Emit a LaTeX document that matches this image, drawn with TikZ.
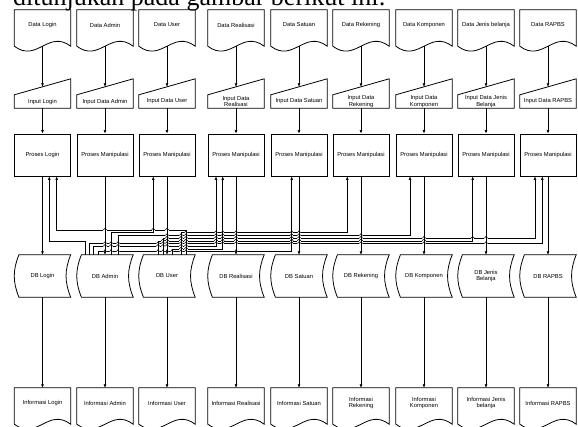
\documentclass[tikz,border=0pt]{standalone}
\usepackage{fontspec}
\setmainfont{Liberation Serif}
\newfontfamily\labfont{Liberation Sans}
\usetikzlibrary{calc,arrows.meta}
\newcommand\docoutline[1]{%
  \draw[outl] let \p1=(#1.north west), \p2=(#1.south east), \n1={\x2-\x1} in
    (\p1) -- (\x2,\y1) -- (\x2,\y2-6pt)
    .. controls (\x2-0.4*\n1,\y2+11pt) and (\x2-0.6*\n1,\y2-23pt) .. (\x1,\y2-6pt) -- cycle;}
\newcommand\inoutline[1]{%
  \draw[outl] let \p1=(#1.north west), \p2=(#1.south east) in
    (\x1,\y2) -- (\p1) -- (\x2,\y1+16pt) -- (\p2) -- cycle;}
\newcommand\dboutline[1]{%
  \draw[outl] let \p1=(#1.north west), \p2=(#1.south east) in
    (\x1+4.6pt,\y1) -- (\x2,\y1) to[bend right=22] (\x2,\y2) -- (\x1+4.6pt,\y2)
    to[bend left=22] (\x1+4.6pt,\y1) -- cycle;}
\newcommand\hopcheck[3]{%
  \pgfmathtruncatemacro\hopflag{((#1)>(\a+0.5))*((#1)<(\b-0.5))*(\L>(#2+0.5))*(\L<(#3-0.5))}%
  \ifnum\hopflag=1
    \fill[white] (#1-1.7,\L-0.8) rectangle (#1+1.7,\L+0.8);
    \draw[bus] (#1-1.7,\L) .. controls (#1-1.7,\L-2.3) and (#1+1.7,\L-2.3) .. (#1+1.7,\L);
  \fi}
\def\routelist{85/240.8/49.3/s2/p1, 186/230/56.7/s3/p1, 111/232.7/153.3/s2/p3,
  93/246.2/216/s2/p4, 172/248.9/222.7/s3/p4, 98/251.6/291.7/s2/p5,
  181/232.7/347.3/s3/p6, 118/235.4/410/s2/p7, 158/240.8/472.7/s3/p8,
  163/238.1/535/s3/p9, 89/243.5/542.3/s2/p9}
\def\hlist{240.8/49.3/85, 230/56.7/186, 232.7/111/153.3, 246.2/93/216,
  248.9/172/222.7, 251.6/98/291.7, 232.7/181/347.3, 235.4/118/410,
  240.8/158/472.7, 238.1/163/535, 243.5/89/542.3}
\begin{document}
\begin{tikzpicture}[x=1pt,y=-1pt,
  lbl/.style={draw=none,minimum width=56pt,inner sep=0pt,align=center,
     font=\labfont\fontsize{5.8}{6.8}\selectfont},
  docn/.style={lbl,minimum height=30pt},
  inpn/.style={lbl,minimum height=13pt},
  procn/.style={lbl,draw,line width=0.8pt,minimum height=42pt},
  dbn/.style={lbl,minimum height=42pt},
  outl/.style={draw,line width=0.8pt},
  myarrow/.style={-{Latex[length=3.4pt,width=2.8pt]}},
  arr/.style={line width=0.6pt,myarrow},
  bus/.style={line width=0.55pt},
  busarr/.style={bus,myarrow},
]
\useasboundingbox (0,0) rectangle (578,426);
\clip (0,0) rectangle (578,426);
\node[anchor=base west,inner sep=0pt,font=\fontsize{26}{30}\selectfont] (title) at (13,5.5) {ditunjukan pada gambar berikut ini:};

\foreach \i/\cx/\dtx/\itx/\ptx/\stx/\otx in {
 1/42.5/{Data Login}/{Input Login}/{Proses Login}/{DB Login}/{Informasi Login},
 2/105/{Data Admin}/{Input Data Admin}/{Proses Manipulasi}/{DB Admin}/{Informasi Admin},
 3/167/{Data User}/{Input Data User}/{Proses Manipulasi}/{DB User}/{Informasi User},
 4/236/{Data Realisasi}/{Input Data\\Realisasi}/{Proses Manipulasi}/{DB Realisasi}/{Informasi Realisasi},
 5/299/{Data Satuan}/{Input Data Satuan}/{Proses Manipulasi}/{DB Satuan}/{Informasi Satuan},
 6/361/{Data Rekening}/{Input Data\\Rekening}/{Proses Manipulasi}/{DB Rekening}/{Informasi\\Rekening},
 7/424/{Data Komponen}/{Input Data\\Komponen}/{Proses Manipulasi}/{DB Komponen}/{Informasi\\Komponen},
 8/486/{Data Jenis belanja}/{Input Data Jenis\\Belanja}/{Proses Manipulasi}/{DB Jenis\\Belanja}/{Informasi Jenis\\belanja},
 9/548/{Data RAPBS}/{Input Data RAPBS}/{Proses Manipulasi}/{DB RAPBS}/{Informasi RAPBS}}{
  \node[docn] (d\i) at (\cx,25) {\dtx};
  \node[inpn] (m\i) at (\cx,101.5) {\itx};
  \node[procn] (p\i) at (\cx,155) {\ptx};
  \node[dbn] (s\i) at (\cx,276) {\stx};
  \node[docn] (o\i) at (\cx,403) {\otx};
  \docoutline{d\i}
  \inoutline{m\i}
  \dboutline{s\i}
  \docoutline{o\i}
  \draw[arr] ([yshift=-6pt]d\i.south) -- ([yshift=8pt]m\i.north);
  \draw[arr] (m\i.south) -- (p\i.north);
  \draw[arr] (s\i.south) -- (o\i.north);
}

% data read connectors (DB -> process)
\foreach \sx/\L/\tx/\sn/\pn in \routelist {
  \draw[busarr] (\sn.north -| \sx,0) |- (\tx,\L) -- (\pn.south -| \tx,0);
}
% line jumps
\foreach \L/\a/\b in \hlist {
  \foreach \v in {42.5,105,167,236,299,361,424,486,548} {\hopcheck{\v}{176}{255}}
  \foreach \sx/\Ls/\tx/\sn/\pn in \routelist {\hopcheck{\sx}{\Ls}{255}\hopcheck{\tx}{176}{\Ls}}
}
% restore vertical segments
\foreach \sx/\L/\tx/\sn/\pn in \routelist {
  \draw[bus] (\sn.north -| \sx,0) -- (\sx,\L);
  \draw[bus] (\tx,\L) -- (\tx,190);
}
% write connectors (process -> DB)
\foreach \i in {1,...,9} {
  \draw[arr] (p\i.south) -- (s\i.north);
}
\end{tikzpicture}
\end{document}
